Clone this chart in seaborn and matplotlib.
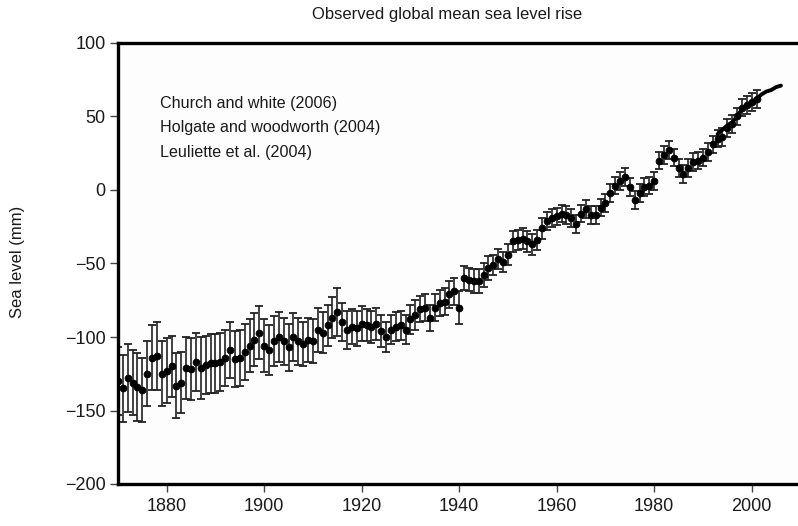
import matplotlib
matplotlib.use("Agg")
import matplotlib.pyplot as plt
import numpy as np
import pandas as pd
import seaborn as sns

# Reconstructed annual global mean sea level (mm), 1870-2001
years = list(range(1870, 2002))
sea_level = [
    -130, -135, -128, -131, -134, -136, -125, -114, -113, -125,   # 1870s
    -123, -120, -133, -131, -121, -122, -117, -121, -119, -118,   # 1880s
    -118, -117, -114, -109, -115, -114, -110, -106, -102, -97,    # 1890s
    -106, -109, -103, -100, -103, -107, -100, -103, -105, -102,   # 1900s
    -103, -95, -97, -92, -87, -83, -90, -95, -93, -94,            # 1910s
    -91, -92, -93, -91, -96, -100, -95, -93, -92, -95,            # 1920s
    -88, -85, -81, -80, -87, -80, -77, -76, -71, -69,             # 1930s
    -80, -60, -61, -62, -62, -58, -53, -51, -47, -49,             # 1940s
    -44, -35, -34, -33, -35, -37, -34, -26, -21, -19,             # 1950s
    -18, -16, -17, -19, -23, -16, -13, -17, -17, -12,             # 1960s
    -9, -2, 3, 6, 9, 2, -7, -2, 2, 3,                             # 1970s
    6, 20, 24, 27, 22, 15, 11, 15, 19, 20,                        # 1980s
    22, 26, 31, 35, 36, 42, 45, 50, 56, 58,                       # 1990s
    60, 62,                                                       # 2000s
]
# One-sigma uncertainty (mm) for each reconstructed year
uncertainty = [
    23, 23, 23, 22, 23, 22, 22, 22, 23, 22,
    22, 21, 22, 21, 21, 21, 20, 21, 20, 20,
    20, 20, 19, 19, 19, 19, 19, 18, 18, 18,
    18, 17, 17, 17, 16, 16, 16, 16, 15, 15,
    15, 15, 14, 14, 14, 16, 13, 13, 12, 12,
    12, 11, 11, 11, 11, 10, 10, 10, 10, 10,
    10, 10, 9, 9, 9, 9, 9, 9, 9, 9,
    11, 8, 8, 8, 8, 8, 8, 7, 7, 7,
    7, 7, 7, 7, 7, 7, 7, 7, 6, 6,
    6, 6, 6, 6, 6, 6, 6, 6, 6, 6,
    6, 6, 6, 6, 6, 6, 6, 6, 6, 6,
    6, 6, 6, 6, 6, 6, 6, 6, 6, 6,
    6, 6, 6, 6, 6, 6, 6, 6, 6, 6,
    6, 6,
]

# Satellite altimetry record (mm)
sat_years = list(range(1993, 2007))
sat_level = [38, 41, 44, 46, 50, 55, 58, 60, 62, 65, 67, 68, 70, 71]

y_ticks = [-200, -150, -100, -50, 0, 50, 100]
x_ticks = [1880, 1900, 1920, 1940, 1960, 1980, 2000]
sources = ["Church and white (2006)",
           "Holgate and woodworth (2004)",
           "Leuliette et al. (2004)"]

recon = pd.DataFrame({"year": years, "level": sea_level, "err": uncertainty})
sat = pd.DataFrame({"year": sat_years, "level": sat_level})

sns.set_style("white")
plt.rcParams["font.family"] = ["Liberation Sans", "DejaVu Sans"]
ink = "#1a1a1a"

fig = plt.figure(figsize=(7.98, 5.26), dpi=100)
ax = fig.add_axes([118 / 798, 1 - 484 / 526, 1 - 118 / 798, (484 - 43) / 526])
ax.set_facecolor("#fdfdfd")

ax.errorbar(recon["year"], recon["level"], yerr=recon["err"], fmt="none",
            ecolor="#222222", elinewidth=1.2, capsize=2.8, capthick=1.3, zorder=2)
sns.scatterplot(data=recon, x="year", y="level", ax=ax, color="black",
                s=24, marker="o", edgecolor="black", linewidth=0.6, zorder=3)
sns.lineplot(data=sat, x="year", y="level", ax=ax, color="black",
             linewidth=2.8, zorder=4)

ax.set_xlim(1870, 2009.5)
ax.set_ylim(-200, 100)
ax.set_xticks(x_ticks)
ax.set_yticks(y_ticks)
ax.set_xlabel("")
ax.set_ylabel("")

for side in ("left", "top", "bottom"):
    ax.spines[side].set_visible(True)
    ax.spines[side].set_linewidth(2.4)
    ax.spines[side].set_color("black")
ax.spines["right"].set_visible(False)

ax.tick_params(axis="both", which="major", bottom=True, left=True,
               top=False, right=False, direction="out", length=6, width=1.0,
               color="#444444", labelsize=13, labelcolor=ink, pad=3)
ax.tick_params(axis="x", pad=4)

for i, label in enumerate(sources):
    ax.text(160 / 798, 1 - (103 + i * 24.5) / 526, label,
            transform=fig.transFigure, fontsize=11.6, color=ink,
            ha="left", va="center")

fig.text(447.5 / 798, 1 - 14 / 526, "Observed global mean sea level rise",
         ha="center", va="center", fontsize=12, color=ink)
fig.text(18 / 798, 1 - 262 / 526, "Sea level (mm)", rotation=90,
         ha="center", va="center", fontsize=12, color=ink)

fig.savefig("out.png", dpi=100)
